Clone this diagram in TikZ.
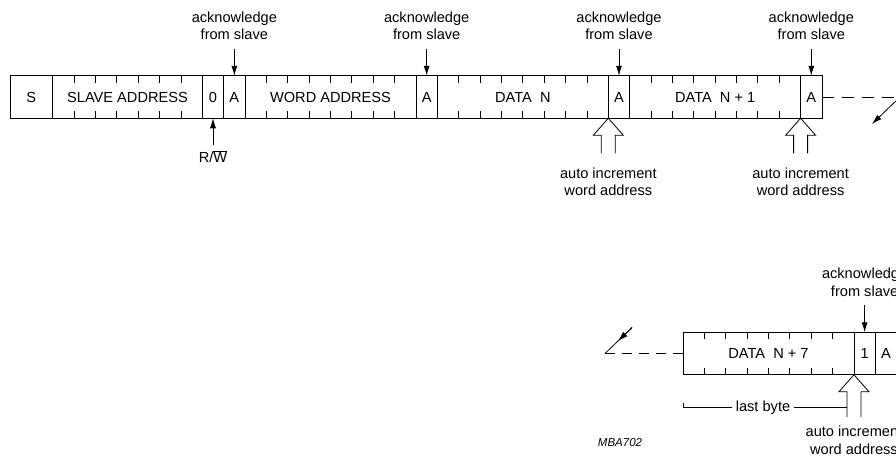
\documentclass[tikz,border=0pt]{standalone}
\usepackage{fontspec}
\setmainfont{Liberation Sans}
\usetikzlibrary{positioning,calc,arrows.meta}

\newcommand{\bw}{21.368pt}
% marcas dos bits
\newcommand{\bitticks}[2]{%
  \foreach \i in {1,...,#2} {
    \draw ($(#1.north west)+(\i*\bw,0pt)$) -- ++(0,7);
    \draw ($(#1.south west)+(\i*\bw,0pt)$) -- ++(0,-7);
  }}
% seta vazada (auto increment)
\newcommand{\autoinc}[2]{%
  \draw (#1) -- ++(15,17) -- ++(-8,0) -- ++(0,#2);
  \draw (#1) -- ++(-15,17) -- ++(8,0) -- ++(0,#2);}

\begin{document}
\begin{tikzpicture}[x=1pt,y=-1pt,
    font=\fontsize{14.6}{17.5}\selectfont,
    line width=0.8pt,
    fld/.style={draw, minimum width=#1*\bw, minimum height=42.5pt, inner sep=0pt, outer sep=0pt},
    ackl/.style={align=center, inner sep=0pt, outer ysep=9pt},
    ack/.style={-{Latex[length=10pt,width=6pt]}},
    incl/.style={align=center, inner sep=0pt}]
    \useasboundingbox (0,0) rectangle (896,455);
    \clip (0,0) rectangle (896,455);

    % linha 1
    \node[fld=2, anchor=west] (s) at (10,97) {S};
    \node[fld=7, right=0pt of s] (sa) {SLAVE ADDRESS};
    \node[fld=1, right=0pt of sa] (rw) {0};
    \node[fld=1, right=0pt of rw] (a1) {A};
    \node[fld=8, right=0pt of a1] (wa) {WORD ADDRESS};
    \node[fld=1, right=0pt of wa] (a2) {A};
    \node[fld=8, right=0pt of a2] (dn) {DATA\ \ N};
    \node[fld=1, right=0pt of dn] (a3) {A};
    \node[fld=8, right=0pt of a3] (dn1) {DATA\ \ N + 1};
    \node[fld=1, right=0pt of dn1] (a4) {A};
    \bitticks{sa}{6}
    \bitticks{wa}{7}
    \bitticks{dn}{7}
    \bitticks{dn1}{7}

    % reconhecimento
    \node[ackl, above=27pt of a1] (ack1) {acknowledge\\from slave};
    \node[ackl, above=27pt of a2] (ack2) {acknowledge\\from slave};
    \node[ackl, above=27pt of a3] (ack3) {acknowledge\\from slave};
    \node[ackl, above=27pt of a4] (ack4) {acknowledge\\from slave};
    \draw[ack] (ack1) -- (a1);
    \draw[ack] (ack2) -- (a2);
    \draw[ack] (ack3) -- (a3);
    \draw[ack] (ack4) -- (a4);

    \node[below=27pt of rw, inner sep=0pt, outer ysep=5pt] (rwl) {R/$\overline{\mbox{W}}$};
    \draw[ack] (rwl) -- (rw);

    % auto increment
    \autoinc{dn.south east}{18}
    \autoinc{dn1.south east}{18}
    \coordinate (ai1) at ($(dn.south east)+(0,35)$);
    \coordinate (ai2) at ($(dn1.south east)+(0,35)$);
    \node[incl, below=14pt of ai1] (inc1) {auto increment\\word address};
    \node[incl, below=14pt of ai2] (inc2) {auto increment\\word address};

    % continua
    \coordinate (c1) at ($(a4.east)+(78,0)$);
    \coordinate (c1e) at ($(c1)+(-28,27)$);
    \draw[dashed, dash pattern=on 12pt off 8pt] (a4.east) -- (c1);
    \draw[ack] (c1) -- (c1e);

    % linha 2
    \node[fld=8, anchor=west] (dn7) at (683,353.5) {DATA\ \ N + 7};
    \node[fld=1, right=0pt of dn7] (one) {1};
    \node[fld=1, right=0pt of one] (a5) {A};
    \bitticks{dn7}{7}

    \coordinate (c2) at ($(dn7.west)+(-78,0)$);
    \coordinate (c2s) at ($(c2)+(27,-26)$);
    \draw[dashed, dash pattern=on 10pt off 7pt] (c2) -- (dn7.west);
    \draw (c2s) -- (c2);
    \draw[ack] (c2s) -- ($(c2s)!0.52!(c2)$);

    \node[ackl, above=27pt of one] (ack5) {acknowledge\\from slave};
    \draw[ack] (ack5) -- (one);

    \autoinc{dn7.south east}{25}
    \coordinate (ai3) at ($(dn7.south east)+(0,42)$);
    \node[incl, below=9pt of ai3] (inc3) {auto increment\\word address};

    % last byte
    \node[anchor=base, inner xsep=3pt, inner ysep=0pt] (lastb) at (763,411) {last byte};
    \coordinate (lbr) at ($(dn7.south east)+(-7,0)$);
    \draw ([yshift=4pt]lastb.west -| dn7.south west) -- (lastb.west -| dn7.south west) -- (lastb.west);
    \draw (lastb.east) -- (lastb.east -| lbr);

    \node[font=\fontsize{11.5}{13}\selectfont\itshape, inner sep=0pt] (code) at (620,443) {MBA702};
\end{tikzpicture}
\end{document}
